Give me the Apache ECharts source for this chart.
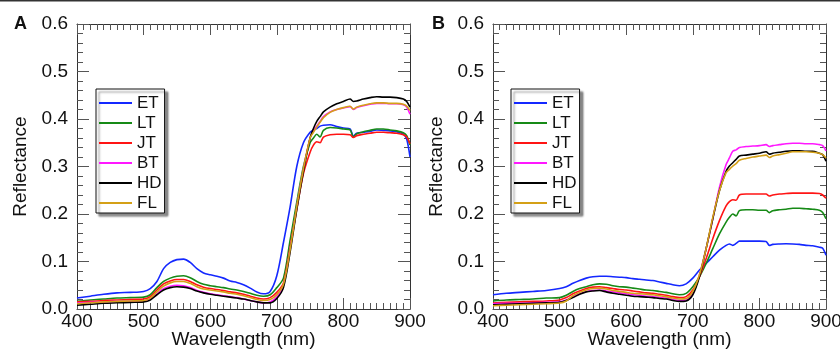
<!DOCTYPE html>
<html><head><meta charset="utf-8">
<script src="https://cdn.jsdelivr.net/npm/echarts@6/dist/echarts.min.js"></script>
<style>html,body{margin:0;padding:0;background:#fff}#c{width:840px;height:352px}</style>
</head><body><div id="c"></div>
<script>
const wavelengths = [400,420,440,460,480,500,510,520,530,540,550,560,570,580,590,600,610,620,630,640,650,660,670,680,690,700,710,720,730,740,750,755,760,765,770,780,790,800,810,815,820,830,840,850,860,870,880,890,895,900];
const seriesNames = ['ET','LT','JT','BT','HD','FL'];
const xTicks = [400,500,600,700,800,900];
const yTicks = [0.0,0.1,0.2,0.3,0.4,0.5,0.6];

const ET_A = [.023,.027,.031,.034,.035,.037,.043,.058,.085,.098,.104,.105,.098,.085,.076,.072,.069,.065,.059,.056,.051,.044,.036,.032,.037,.07,.14,.215,.30,.35,.372,.377,.38,.385,.387,.388,.384,.381,.379,.364,.37,.372,.374,.377,.376,.375,.373,.368,.358,.32];
const LT_A = [.016,.019,.021,.023,.024,.025,.03,.045,.058,.065,.069,.07,.066,.058,.052,.049,.047,.045,.042,.04,.037,.033,.029,.027,.03,.045,.065,.145,.225,.30,.35,.36,.368,.362,.376,.382,.381,.379,.377,.362,.369,.373,.376,.379,.379,.377,.375,.371,.365,.345];
const JT_A = [.015,.016,.018,.019,.02,.021,.026,.04,.053,.059,.062,.062,.058,.051,.046,.043,.041,.039,.036,.034,.031,.027,.023,.021,.024,.035,.055,.13,.21,.285,.33,.345,.352,.35,.362,.367,.368,.368,.367,.361,.365,.368,.37,.372,.372,.371,.37,.367,.362,.348];
const BT_A = [.012,.014,.015,.016,.016,.017,.021,.032,.043,.048,.05,.049,.045,.039,.035,.032,.03,.028,.026,.024,.021,.018,.015,.013,.015,.025,.05,.125,.215,.295,.36,.375,.385,.395,.405,.415,.42,.423,.426,.42,.424,.428,.431,.433,.433,.432,.432,.43,.425,.41];
const HD_A = [.008,.01,.012,.013,.014,.015,.019,.03,.04,.045,.047,.046,.043,.038,.034,.031,.029,.027,.025,.023,.021,.018,.015,.013,.013,.022,.045,.12,.21,.29,.36,.38,.395,.405,.415,.425,.432,.437,.442,.437,.438,.442,.445,.447,.446,.446,.445,.442,.437,.425];
const FL_A = [.011,.013,.015,.016,.017,.018,.023,.036,.048,.055,.058,.058,.054,.047,.042,.04,.038,.036,.033,.031,.028,.024,.02,.018,.02,.03,.052,.125,.215,.295,.36,.372,.383,.393,.403,.414,.42,.424,.427,.421,.425,.429,.432,.434,.434,.433,.433,.431,.427,.418];

const ET_B = [.030,.033,.035,.037,.039,.043,.047,.054,.06,.065,.068,.069,.069,.068,.067,.066,.064,.0625,.061,.06,.057,.054,.051,.049,.053,.065,.082,.096,.11,.124,.134,.137,.134,.138,.143,.143,.143,.143,.142,.134,.136,.137,.1375,.137,.136,.134,.133,.13,.128,.113];
const LT_B = [.017,.019,.020,.021,.023,.024,.029,.037,.043,.047,.051,.053,.052,.049,.047,.046,.044,.042,.040,.039,.037,.035,.032,.030,.033,.047,.068,.096,.127,.158,.183,.193,.2,.196,.207,.209,.209,.208,.208,.203,.207,.209,.21,.212,.212,.211,.21,.208,.203,.19];
const JT_B = [.0125,.014,.015,.016,.017,.019,.024,.032,.038,.043,.046,.047,.045,.043,.041,.040,.038,.036,.034,.033,.031,.029,.026,.024,.026,.04,.068,.106,.148,.186,.217,.226,.23,.229,.24,.242,.242,.242,.242,.238,.24,.242,.243,.244,.244,.244,.244,.243,.24,.233];
const BT_B = [.011,.012,.012,.013,.014,.015,.019,.026,.032,.037,.039,.040,.038,.036,.034,.032,.030,.029,.027,.026,.024,.023,.020,.018,.019,.033,.072,.127,.19,.256,.304,.318,.332,.335,.340,.342,.343,.344,.346,.342,.344,.346,.348,.349,.349,.348,.348,.346,.344,.333];
const HD_B = [.009,.010,.011,.012,.013,.014,.018,.024,.031,.036,.038,.039,.036,.033,.031,.029,.027,.026,.025,.024,.022,.021,.018,.016,.017,.03,.068,.127,.19,.249,.29,.301,.308,.315,.322,.324,.326,.328,.331,.326,.328,.330,.332,.333,.333,.332,.332,.328,.325,.311];
const FL_B = [.007,.008,.009,.010,.011,.0125,.017,.028,.035,.040,.043,.044,.042,.039,.037,.035,.033,.032,.031,.030,.028,.026,.023,.021,.022,.037,.072,.127,.193,.249,.287,.294,.301,.306,.313,.317,.320,.322,.324,.319,.322,.325,.328,.331,.331,.331,.330,.328,.325,.318];

const panelA = [ET_A, LT_A, JT_A, BT_A, HD_A, FL_A];
const panelB = [ET_B, LT_B, JT_B, BT_B, HD_B, FL_B];
const colors = ['#1428ff','#168a16','#ff1414','#ff18ff','#000000','#d4a017'];

const FONT = '"Liberation Sans", Arial, Helvetica, sans-serif';
const AX = '#333';
const TK = '#555';

function xAxisPair(grid){
  const base = {
    type:'value', gridIndex:grid, min:xTicks[0], max:xTicks[xTicks.length-1], interval:100,
    axisLine:{show:true,onZero:false,lineStyle:{color:AX,width:1}},
    axisTick:{show:true,inside:true,length:11,lineStyle:{color:TK,width:1}},
    minorTick:{show:true,splitNumber:10,length:6,lineStyle:{color:TK,width:1}},
    splitLine:{show:false}
  };
  return [
    Object.assign({}, base, {position:'bottom',
      name:'Wavelength (nm)', nameLocation:'middle', nameGap:21, nameMoveOverlap:false,
      nameTextStyle:{fontFamily:FONT,fontSize:19,color:'#111',lineHeight:19},
      axisLabel:{show:true,margin:3,fontFamily:FONT,fontSize:19,color:'#111'}}),
    Object.assign({}, base, {position:'top', axisLabel:{show:false}})
  ];
}
function yAxisPair(grid){
  const base = {
    type:'value', gridIndex:grid, min:yTicks[0], max:yTicks[yTicks.length-1], interval:0.1,
    axisLine:{show:true,onZero:false,lineStyle:{color:AX,width:1}},
    axisTick:{show:true,inside:true,length:12,lineStyle:{color:TK,width:1}},
    minorTick:{show:true,splitNumber:5,length:6,lineStyle:{color:TK,width:1}},
    splitLine:{show:false}
  };
  return [
    Object.assign({}, base, {position:'left',
      name:'Reflectance', nameLocation:'middle', nameGap:47,
      nameTextStyle:{fontFamily:FONT,fontSize:19,color:'#111'},
      axisLabel:{show:true,margin:9,fontFamily:FONT,fontSize:19,color:'#111',formatter:v=>v.toFixed(1)}}),
    Object.assign({}, base, {position:'right', axisLabel:{show:false}})
  ];
}

function mkSeries(arrs, xi, yi){
  return arrs.map((arr,k)=>({
    type:'line', name:seriesNames[k], xAxisIndex:xi, yAxisIndex:yi,
    data: wavelengths.map((w,i)=>[w, arr[i]]),
    showSymbol:false, smooth:0.3, color:colors[k],
    lineStyle:{width:1.6,color:colors[k]}
  }));
}

function mkLegend(left){
  return {
    orient:'vertical', left:left, top:89, data:seriesNames,
    icon:'rect', itemWidth:33, itemHeight:2, itemGap:0,
    padding:[4,3,0,3],
    backgroundColor:'#fff', borderColor:'#111', borderWidth:1,
    shadowColor:'rgba(0,0,0,0.45)', shadowOffsetX:3, shadowOffsetY:3, shadowBlur:2,
    textStyle:{fontFamily:FONT,fontSize:17,color:'#111',lineHeight:20},
    selectedMode:false
  };
}

const chart = echarts.init(document.getElementById('c'), null, {renderer:'canvas'});
const xa = xAxisPair(0).concat(xAxisPair(1));
const ya = yAxisPair(0).concat(yAxisPair(1));
chart.setOption({
  animation:false,
  backgroundColor:'#fff',
  grid:[
    {left:77, top:24, width:333, height:285, containLabel:false, outerBoundsMode:'none'},
    {left:493, top:24, width:333, height:285, containLabel:false, outerBoundsMode:'none'}
  ],
  xAxis:xa,
  yAxis:ya,
  legend:[mkLegend(96), mkLegend(511)],
  series: mkSeries(panelA,0,0).concat(mkSeries(panelB,2,2)),
  graphic:[
    {type:'rect', shape:{x:0,y:0,width:840,height:1.5}, style:{fill:'#333'}},
    {type:'text', left:14, top:15, style:{text:'A', fontFamily:FONT, fontSize:18, fontWeight:'bold', fill:'#111'}},
    {type:'text', left:432, top:15, style:{text:'B', fontFamily:FONT, fontSize:18, fontWeight:'bold', fill:'#111'}}
  ]
});
</script></body></html>
